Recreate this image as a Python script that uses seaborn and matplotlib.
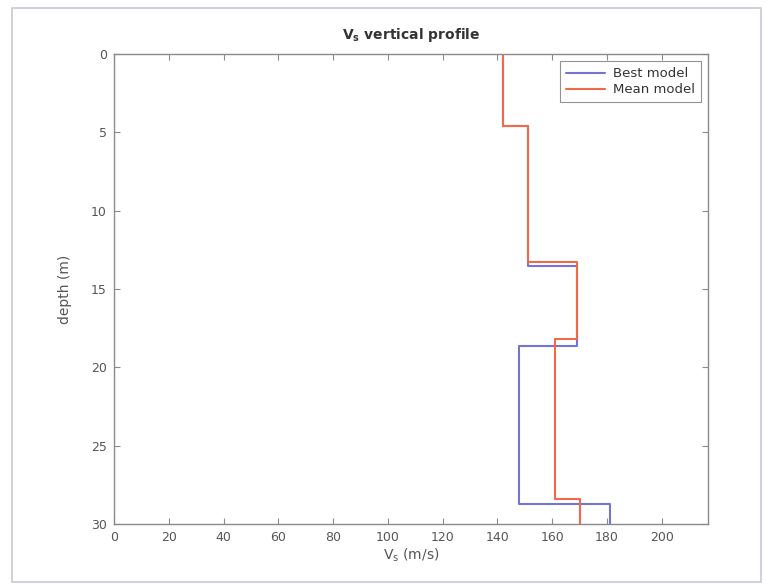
import matplotlib
matplotlib.use("Agg")
import matplotlib.pyplot as plt
import seaborn as sns
import numpy as np
import pandas as pd
from matplotlib.patches import Rectangle

# ---- data ----
best_vel = [142, 151, 169, 148, 181]          # m/s per layer
best_bounds = [0, 4.6, 13.5, 18.6, 28.7, 30]  # layer boundaries (m)
mean_vel = [142, 151, 169, 161, 170]
mean_bounds = [0, 4.6, 13.3, 18.2, 28.4, 30]
x_ticks = [0, 20, 40, 60, 80, 100, 120, 140, 160, 180, 200]
y_ticks = [0, 5, 10, 15, 20, 25, 30]


def step_profile(vel, bounds, name):
    xs, ys = [], []
    for i, v in enumerate(vel):
        xs += [v, v]
        ys += [bounds[i], bounds[i + 1]]
    return pd.DataFrame({"Vs": xs, "depth": ys, "model": name})


df = pd.concat([step_profile(best_vel, best_bounds, "Best model"),
                step_profile(mean_vel, mean_bounds, "Mean model")],
               ignore_index=True)

sns.set_theme(style="white")
plt.rcParams["font.family"] = ["DejaVu Sans"]

fig = plt.figure(figsize=(7.7, 5.87), dpi=100)
ax = fig.add_axes([0.148, 0.107, 0.772, 0.801])

colors = {"Best model": "#7474d2", "Mean model": "#ee6a48"}
sns.lineplot(data=df, x="Vs", y="depth", hue="model", palette=colors,
             sort=False, estimator=None, linewidth=1.5, ax=ax)

ax.set_xlim(0, 217)
ax.set_ylim(30, 0)
ax.set_xticks(x_ticks)
ax.set_yticks(y_ticks)

grey = "#555555"
for s in ax.spines.values():
    s.set_color("#8a8a8a")
    s.set_linewidth(1.0)
ax.tick_params(direction="in", length=4, width=0.8, colors="#8a8a8a",
               labelcolor=grey, labelsize=9, top=True, right=True,
               bottom=True, left=True, pad=5)

ax.set_xlabel(r"V$_\mathrm{s}$ (m/s)", color=grey, fontsize=10, labelpad=2)
ax.set_ylabel("depth (m)", color=grey, fontsize=10, labelpad=14)
ax.set_title(r"V$_\mathbf{s}$ vertical profile", color="#333333",
             fontsize=10, fontweight="bold", pad=11)

leg = ax.legend(loc="upper right", fontsize=9.5, frameon=True, fancybox=False,
                handlelength=3.0, borderpad=0.45, labelspacing=0.25,
                handletextpad=0.6, borderaxespad=0.55)
leg.get_frame().set_edgecolor("#777777")
leg.get_frame().set_linewidth(0.8)
for t in leg.get_texts():
    t.set_color("#333333")

fig.patches.append(Rectangle((0.016, 0.009), 0.972, 0.977, transform=fig.transFigure,
                             fill=False, edgecolor="#c8c8d6", linewidth=1.2))

fig.savefig("out.png", dpi=100, facecolor="white")
